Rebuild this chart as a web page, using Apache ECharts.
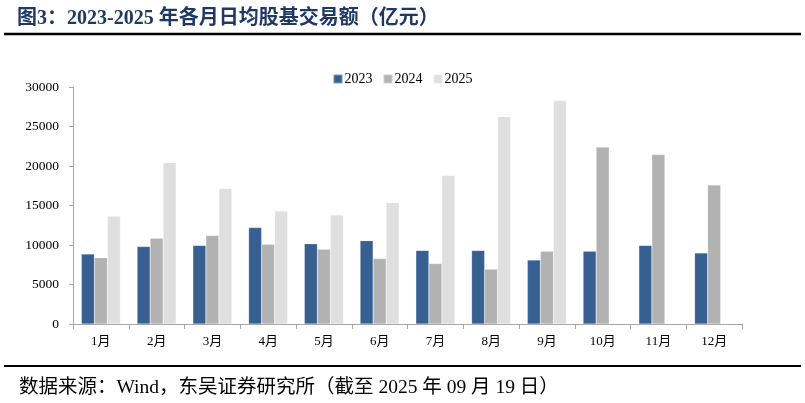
<!DOCTYPE html>
<html><head><meta charset="utf-8">
<script src="https://cdn.jsdelivr.net/npm/echarts@6/dist/echarts.min.js"></script>
<style>html,body{margin:0;padding:0;background:#fff}#c{width:805px;height:403px}</style>
</head><body><div id="c"></div>
<script>
const categories = ['1月','2月','3月','4月','5月','6月','7月','8月','9月','10月','11月','12月'];
const s2023 = [8850, 9800, 9950, 12200, 10150, 10550, 9300, 9300, 8100, 9200, 9950, 9000];
const s2024 = [8400, 10850, 11200, 10100, 9450, 8300, 7650, 6950, 9200, 22400, 21450, 17600];
const s2025 = [13650, 20400, 17150, 14300, 13800, 15350, 18800, 26250, 28300, null, null, null];
const yTicks = [0, 5000, 10000, 15000, 20000, 25000, 30000];

const serif = '"Liberation Serif", "Times New Roman", "Noto Sans CJK SC", serif';
const chart = echarts.init(document.getElementById('c'));
function bar(name, data, color) {
  return { name, type: 'bar', data, barGap: '0%', barCategoryGap: '30%',
    itemStyle: { color, borderColor: 'rgba(255,255,255,0.35)', borderWidth: 0.5 } };
}
chart.setOption({
  animation: false,
  title: [{
    text: '图3：2023-2025 年各月日均股基交易额（亿元）', left: 12, top: 4,
    textStyle: { fontFamily: serif, fontSize: 20, fontWeight: 'bold', color: '#1F3864' }
  }, {
    text: '数据来源：Wind，东吴证券研究所（截至 2025 年 09 月 19 日）', left: 14, top: 373,
    textStyle: { fontFamily: serif, fontSize: 19.5, fontWeight: 'normal', color: '#000' }
  }],
  graphic: [
    { type: 'line', shape: { x1: 4, y1: 34, x2: 801, y2: 34 }, style: { stroke: '#000', lineWidth: 2.5 } },
    { type: 'line', shape: { x1: 4, y1: 366, x2: 801, y2: 366 }, style: { stroke: '#000', lineWidth: 2 } }
  ],
  legend: {
    top: 67, left: 'center', itemWidth: 9, itemHeight: 9, itemGap: 10,
    icon: 'rect',
    textStyle: { fontFamily: serif, fontSize: 14, color: '#000', padding: [0, 0, 0, -3] },
    data: ['2023', '2024', '2025']
  },
  grid: { left: 73, right: 63, top: 87, bottom: 79, containLabel: false },
  xAxis: {
    type: 'category', data: categories,
    axisLine: { lineStyle: { color: '#a6a6a6', width: 1 } },
    axisTick: { show: true, length: 5, lineStyle: { color: '#a6a6a6' } },
    axisLabel: { fontFamily: serif, fontSize: 13, color: '#000', margin: 11 }
  },
  yAxis: {
    type: 'value', min: 0, max: 30000, interval: 5000,
    axisLine: { show: true, lineStyle: { color: '#a6a6a6', width: 1 } },
    axisTick: { show: true, length: 4, lineStyle: { color: '#a6a6a6' } },
    splitLine: { show: false },
    axisLabel: { fontFamily: serif, fontSize: 13.5, color: '#000', margin: 14,
      formatter: v => String(v), customValues: yTicks }
  },
  series: [
    bar('2023', s2023, '#375F92'),
    bar('2024', s2024, '#B2B2B2'),
    bar('2025', s2025, '#DFDFDF')
  ]
});
</script></body></html>
